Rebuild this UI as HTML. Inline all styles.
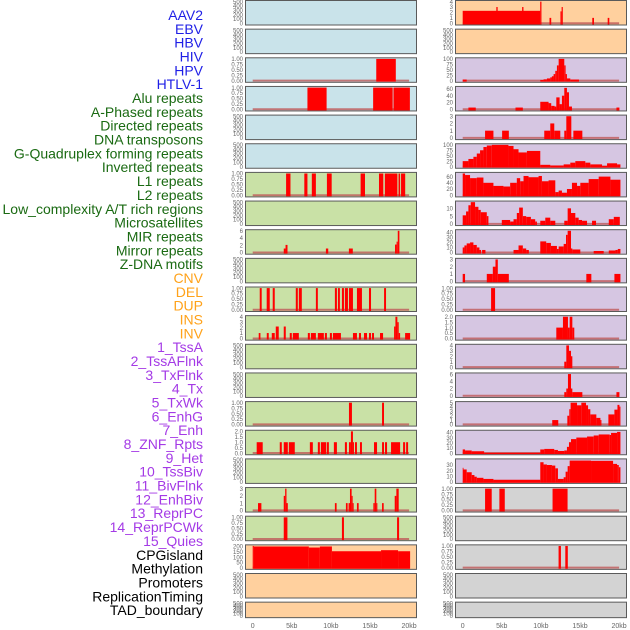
<!DOCTYPE html>
<html><head><meta charset="utf-8"><style>
html,body{margin:0;padding:0;background:#fff;}
svg{display:block;font-family:"Liberation Sans",sans-serif;}
</style></head><body>
<svg id="chart" width="630" height="630" viewBox="0 0 630 630" xmlns="http://www.w3.org/2000/svg"></svg>
<script>
// ---- data ----
const trackNames = ["AAV2","EBV","HBV","HIV","HPV","HTLV-1","Alu repeats","A-Phased repeats","Directed repeats","DNA transposons","G-Quadruplex forming repeats","Inverted repeats","L1 repeats","L2 repeats","Low_complexity A/T rich regions","Microsatellites","MIR repeats","Mirror repeats","Z-DNA motifs","CNV","DEL","DUP","INS","INV","1_TssA","2_TssAFlnk","3_TxFlnk","4_Tx","5_TxWk","6_EnhG","7_Enh","8_ZNF_Rpts","9_Het","10_TssBiv","11_BivFlnk","12_EnhBiv","13_ReprPC","14_ReprPCWk","15_Quies","CPGisland","Methylation","Promoters","ReplicationTiming","TAD_boundary"];
const labelGroups = ["virus","virus","virus","virus","virus","virus","repeat","repeat","repeat","repeat","repeat","repeat","repeat","repeat","repeat","repeat","repeat","repeat","repeat","sv","sv","sv","sv","sv","chrom","chrom","chrom","chrom","chrom","chrom","chrom","chrom","chrom","chrom","chrom","chrom","chrom","chrom","chrom","other","other","other","other","other"];
const xTickValues = [0,5,10,15,20];
const xTickLabels = ["0","5kb","10kb","15kb","20kb"];

const ticksEmpty = ["0","100","200","300","400","500"];
const ticksUnit = ["0.00","0.25","0.50","0.75","1.00"];
const ticksTwo = ["0.0","0.5","1.0","1.5","2.0"];

const segAAV2 = [];
const segEBV = [];
const segHBV = [[15.8,18.3,1]];
const segHIV = [[7.0,9.45,1],[15.4,17.9,1],[18.0,20.1,1]];
const segHPV = [];
const segHTLV = [];
const segAlu = [[4.27,4.83,1],[6.6,7.0,1],[7.56,8.08,1],[9.49,10.1,1],[13.8,14.36,1],[16.15,16.7,1],[16.9,18.5,1],[18.65,18.85,1],[18.97,19.5,1]];
const segAPhased = [];
const segDirected = [[3.97,4.2,1.1],[4.2,4.45,2.1],[9.36,9.66,1.1],[12.3,12.8,1.1],[18.2,18.4,2.2],[18.4,18.55,3],[18.55,18.76,6]];
const segDNATrans = [];
const segGQuad = [[0.9,1.15,1],[1.79,2.18,1],[2.56,2.82,1],[5.51,5.77,1],[5.9,6.28,1],[8.08,8.33,1],[10.51,10.77,1],[10.9,11.15,1],[11.41,11.67,1],[11.79,12.18,1],[12.31,12.82,1],[13.33,13.97,1],[14.87,15.13,1],[16.8,17.05,1]];
const segInverted = [[0.77,0.99,1],[1.8,2.05,1],[2.44,2.82,1],[2.95,3.33,2.2],[3.97,4.23,2.2],[4.74,5.0,1],[5.13,5.9,1],[7.05,7.31,1],[7.44,8.08,1],[8.33,9.1,1],[9.23,9.49,1],[9.87,10.13,1],[10.26,11.28,1],[12.82,13.33,1],[13.59,13.85,1],[14.23,14.62,1],[14.87,15.13,1],[15.26,15.51,1],[16.28,16.67,1],[18.08,18.25,2.2],[18.25,18.5,4],[18.5,18.67,3],[18.67,18.85,1],[19.49,20.13,1]];
const segL1 = [];
const segL2 = [];
const segLowComplex = [[12.31,12.69,1],[16.54,16.79,1]];
const segMicrosat = [[0.51,1.28,1],[3.46,3.72,1],[3.97,4.49,1],[4.62,5.38,1],[7.31,7.69,1],[8.33,8.59,1],[8.72,9.4,1],[9.49,9.74,1],[10.38,10.77,1],[11.79,12.05,1],[12.31,12.56,1],[12.56,12.82,2],[12.82,12.95,1],[13.08,13.33,1],[13.72,13.97,1],[15.51,15.9,1],[16.54,16.79,1],[16.92,17.18,1],[17.69,18.85,1],[19.23,19.49,1],[19.62,19.87,1]];
const segMIR = [];
const segMirror = [[0.68,1.11,1],[3.97,4.15,2],[4.15,4.32,3],[4.32,4.49,1],[10.51,10.73,1],[11.92,12.14,1],[12.26,12.44,1],[12.44,12.65,3],[12.65,12.78,2],[12.78,12.91,1],[13.33,13.55,1],[15.43,15.6,1],[15.6,15.81,3],[15.81,15.94,1],[16.54,16.75,1],[18.16,18.37,2],[18.37,18.67,3]];
const segZDNA = [[3.97,4.44,1],[11.41,11.67,1],[18.46,18.72,1]];
const segCNV = [[0,0.15,205],[0.15,7.18,200],[7.18,8.59,190],[8.59,10.13,200],[10.13,16.41,155],[16.41,18.59,165],[18.59,20.13,155]];
const segDEL = [];
const segDUP = [];
const segINS = [[0,9.91,2.3],[4.3,4.47,3],[7.6,7.77,3],[9.91,10.07,4],[11.1,11.32,1],[12.5,12.65,2.2],[12.65,12.8,3],[16.57,16.79,1],[18.54,18.75,1]];
const segINV = [];
const segTssA = [[0,0.51,5],[9.92,10.34,3],[10.34,10.77,6],[10.77,11.2,10],[11.2,11.41,15],[11.41,11.62,20],[11.62,11.84,30],[11.84,12.05,45],[12.05,12.27,70],[12.27,12.99,100],[12.99,13.16,70],[13.16,13.33,30],[13.33,13.76,10],[13.76,14.87,5]];
const segTssAFlnk = [[0.73,1.67,5],[6.75,7.69,5],[9.92,10.98,22],[10.98,11.32,18],[11.32,11.75,10],[11.75,11.97,8],[11.97,12.39,35],[12.39,12.69,15],[12.69,12.99,40],[12.99,13.33,63],[13.33,13.59,50],[13.59,13.97,8],[19.66,20.04,5]];
const segTxFlnk = [[2.86,3.93,1],[5.04,5.9,1],[10.43,11.2,1],[11.2,11.71,2],[11.71,12.48,1],[12.99,13.25,1],[13.25,13.89,3],[14.15,15.3,1]];
const segTx = [[0,0.73,25],[0.73,1.37,35],[1.37,1.8,45],[1.8,2.22,60],[2.22,2.65,75],[2.65,3.08,90],[3.08,3.72,97],[3.72,5.85,100],[5.85,6.5,95],[6.5,7.14,80],[7.14,8.21,65],[8.21,9.92,72],[9.92,11.2,8],[11.2,12.91,5],[12.91,13.76,10],[13.76,14.4,18],[14.4,15.68,25],[15.68,16.32,18],[16.32,17.82,10],[17.82,18.46,3],[18.46,19.74,15],[19.74,20.17,10]];
const segTxWk = [[0,0.3,70],[0.3,0.94,65],[0.94,1.8,55],[1.8,2.65,57],[2.65,3.93,40],[3.93,5.21,30],[5.21,6.07,28],[6.07,6.92,40],[6.92,7.35,55],[7.35,7.78,45],[7.78,8.42,62],[8.42,9.7,58],[9.7,10.13,62],[10.13,10.98,45],[10.98,11.84,48],[11.84,12.27,10],[12.27,12.69,15],[12.69,13.33,8],[13.33,13.97,20],[13.97,14.62,40],[14.62,15.04,30],[15.04,16.11,40],[16.11,17.39,52],[17.39,18.89,60],[18.89,20.17,50]];
const segEnhG = [[0,0.43,5.5],[0.43,0.73,8],[0.73,1.03,12],[1.03,1.58,14],[1.58,2.01,11],[2.01,2.31,9],[2.31,3.08,7.5],[3.08,3.29,5],[5.0,6.07,2.5],[6.07,6.5,1.5],[6.5,6.92,3],[6.92,7.22,7],[7.22,7.69,10.5],[7.69,8.12,5],[8.12,8.72,4.5],[8.72,9.27,3],[9.27,9.49,1.5],[9.92,10.56,2],[10.56,11.2,4],[11.2,11.84,2],[12.99,13.42,2],[13.42,13.85,10],[13.85,14.4,7],[14.4,14.83,4],[14.83,15.26,2.5],[15.26,15.9,2],[16.54,17.05,2],[18.68,19.32,3],[19.32,20.09,4.5]];
const segEnh = [[0,0.22,10],[0.22,0.51,14],[0.51,0.94,18],[0.94,1.37,20],[1.37,1.8,15],[1.8,2.14,10],[2.14,2.35,5],[2.48,2.91,5],[6.5,7.14,5],[7.14,7.69,14],[7.69,8.12,8],[8.12,8.46,5],[9.92,10.68,22],[10.68,11.28,19],[11.28,12.05,13],[12.05,12.27,7],[12.27,12.91,12],[12.91,13.21,17],[13.21,13.42,35],[13.42,13.85,43],[13.85,14.02,8],[14.02,15.04,6],[16.75,18.03,3],[18.68,19.53,4],[19.53,19.83,5],[19.83,20.17,7]];
const segZNF = [[0,0.3,1],[3.08,3.85,1],[3.85,4.19,2],[4.19,4.49,3],[4.49,5.9,1],[15.81,16.45,1],[19.4,20.17,1]];
const segHet = [[3.63,4.14,1]];
const segTssBiv = [[11.97,12.82,1],[12.82,13.46,2],[13.46,13.68,1],[13.68,14.02,2],[14.02,14.27,1]];
const segBivFlnk = [[12.99,13.25,1],[13.25,13.59,4],[13.59,13.85,3],[13.85,14.02,2]];
const segEnhBiv = [[12.99,13.25,1],[13.25,13.46,2],[13.46,13.85,6],[13.85,14.02,2],[14.02,15.3,1],[19.66,20.04,1]];
const segReprPC = [[11.45,12.22,1],[13.38,13.63,2],[13.63,13.8,3.5],[13.8,14.62,5],[14.62,15.17,4.4],[15.17,15.77,5],[15.77,16.03,4.4],[16.03,16.32,3.5],[16.32,17.09,2.3],[17.09,17.61,1.5],[17.61,17.74,1],[18.63,19.4,2.3],[19.4,19.79,3.4],[19.79,20.04,4.5],[20.04,20.17,4.1]];
const segReprPCWk = [[0,0.3,7],[0.3,1.15,5],[1.15,2.74,3.5],[2.74,9.92,0.5],[9.92,10.43,7],[10.43,11.71,8],[11.71,12.18,6],[12.18,12.99,4],[12.99,13.33,5],[13.33,13.59,12],[13.59,13.85,21],[13.85,14.53,27],[14.53,15.9,30],[15.9,16.75,32],[16.75,17.39,34],[17.39,18.8,36],[18.8,18.97,35],[18.97,19.74,39],[19.74,20.17,41]];
const segQuies = [[0,0.09,25],[0.09,0.51,22],[0.51,1.15,17],[1.15,1.5,12],[1.5,1.8,9],[1.8,2.65,7],[2.65,3.93,5],[3.93,9.92,3.5],[9.92,10.34,35],[10.34,10.77,31],[10.77,11.41,30],[11.41,11.84,29],[11.84,12.18,24],[12.18,12.91,5],[12.91,13.16,8],[13.16,13.42,18],[13.42,13.68,28],[13.68,16.41,38],[16.41,19.23,37.5],[19.23,19.74,32],[19.74,19.96,30],[19.96,20.17,26]];
const segCPG = [[2.86,3.71,1],[4.69,5.38,1],[11.49,13.41,1]];
const segMethyl = [];
const segPromoters = [[12.26,12.56,1],[13.12,13.44,1]];
const segRepTiming = [];
const segTAD = [];

const trackSegments = [segAAV2,segEBV,segHBV,segHIV,segHPV,segHTLV,segAlu,segAPhased,segDirected,segDNATrans,segGQuad,segInverted,segL1,segL2,segLowComplex,segMicrosat,segMIR,segMirror,segZDNA,segCNV,segDEL,segDUP,segINS,segINV,segTssA,segTssAFlnk,segTxFlnk,segTx,segTxWk,segEnhG,segEnh,segZNF,segHet,segTssBiv,segBivFlnk,segEnhBiv,segReprPC,segReprPCWk,segQuies,segCPG,segMethyl,segPromoters,segRepTiming,segTAD];
const trackDomains = [500,500,1,1,500,500,1,500,6,500,1,4,500,500,1,2,500,3,1,205,500,500,4,500,100,64,3,100,70,14,43,3,1,2,4,6,5,42,39,1,500,1,500,500];
const trackTicks = [ticksEmpty,ticksEmpty,ticksUnit,ticksUnit,ticksEmpty,ticksEmpty,ticksUnit,ticksEmpty,["0","2","4","6"],ticksEmpty,ticksUnit,["0","1","2","3","4"],ticksEmpty,ticksEmpty,ticksUnit,ticksTwo,ticksEmpty,["0","1","2","3"],ticksUnit,["0","50","100","150","200"],ticksEmpty,ticksEmpty,["0","1","2","3","4"],ticksEmpty,["0","25","50","75","100"],["0","20","40","60"],["0","1","2","3"],["0","25","50","75","100"],["0","20","40","60"],["0","5","10"],["0","10","20","30","40"],["0","1","2","3"],ticksUnit,ticksTwo,["0","1","2","3","4"],["0","2","4","6"],["0","1","2","3","4","5"],["0","10","20","30","40"],["0","10","20","30"],ticksUnit,ticksEmpty,ticksUnit,ticksEmpty,ticksEmpty];

// ---- drawing ----
const NS = "http://www.w3.org/2000/svg";
const svg = document.getElementById("chart");
function mk(tag, attrs, parent){
  const e = document.createElementNS(NS, tag);
  for (const k in attrs) e.setAttribute(k, attrs[k]);
  (parent||svg).appendChild(e);
  return e;
}
const groupColor = {virus:"#1f1fe6", repeat:"#1a6a12", sv:"#ffa21a", chrom:"#a43ae6", other:"#000000"};
const bgColor = i => {
  if (i < 6) return "#c9e3ea";
  if (i < 19) return "#c9e1a6";
  if (i < 24) return "#ffd09e";
  if (i < 39) return "#d6c6e2";
  return "#d3d3d3";
};

// labels
trackNames.forEach((n, i) => {
  const t = mk("text", {x:203, y:20 + i*13.84, "text-anchor":"end", "font-size":14, fill:groupColor[labelGroups[i]]});
  t.textContent = n;
  
  
});

function xScale(kb, side){ return 252.7 + side*210 + kb*7.82; }

trackNames.forEach((n, i) => {
  const side = i < 22 ? 0 : 1;
  const row = i % 22;
  const top = 0.5 + row*28.65;
  const h = row === 21 ? 15.5 : 24.5;
  const bx = 245.5 + side*210, bw = 171;
  const domain = trackDomains[i];
  const y0 = top + h - 1.7, yh = h - 2.8;
  const yScale = v => y0 - v/domain*yh;
  const g = mk("g", {});
  
  
  mk("rect", {x:bx, y:top, width:bw, height:h, fill:bgColor(i), stroke:"#5a5a5a", "stroke-width":1}, g);
  const clipId = "clip"+i;
  const cp = mk("clipPath", {id:clipId}, g);
  mk("rect", {x:bx+0.5, y:top+0.5, width:bw-1, height:h-1}, cp);
  const segs = trackSegments[i];
  const cg = mk("g", {"clip-path":"url(#"+clipId+")"}, g);
  if (segs.length) {
    const bl = mk("line", {x1:xScale(0,side), x2:xScale(20,side), y1:y0, y2:y0, stroke:"#c05a5a", "stroke-width":2, opacity:0.8}, cg);
    
    
  }
  segs.forEach(s => {
    const x1 = xScale(s[0], side), x2 = xScale(s[1], side);
    const r = mk("rect", {x:x1, y:yScale(s[2]), width:Math.max(0.8, x2-x1), height:Math.max(0, y0 - yScale(s[2]) + 1.2), fill:"#ff0000"}, cg);
    
    
  });
  // y ticks
  const tk = trackTicks[i];
  tk.forEach((lab, k) => {
    const v = parseFloat(lab);
    const yy = yScale(v * (domain===205 ? 1 : 1));
    const yt = domain === 500 ? y0 - (k/(tk.length-1))*yh : yy;
    const t = mk("text", {x:bx-2.5, y:yt+2.2, "text-anchor":"end", "font-size":6, fill:"#666"}, g);
    t.textContent = lab;
    
    
  });
});

// x axes
[0,1].forEach(side => {
  xTickValues.forEach((v, k) => {
    const t = mk("text", {x:xScale(v, side), y:628, "text-anchor":"middle", "font-size":7, fill:"#666"});
    t.textContent = xTickLabels[k];
    
    
  });
});
</script>
</body></html>
